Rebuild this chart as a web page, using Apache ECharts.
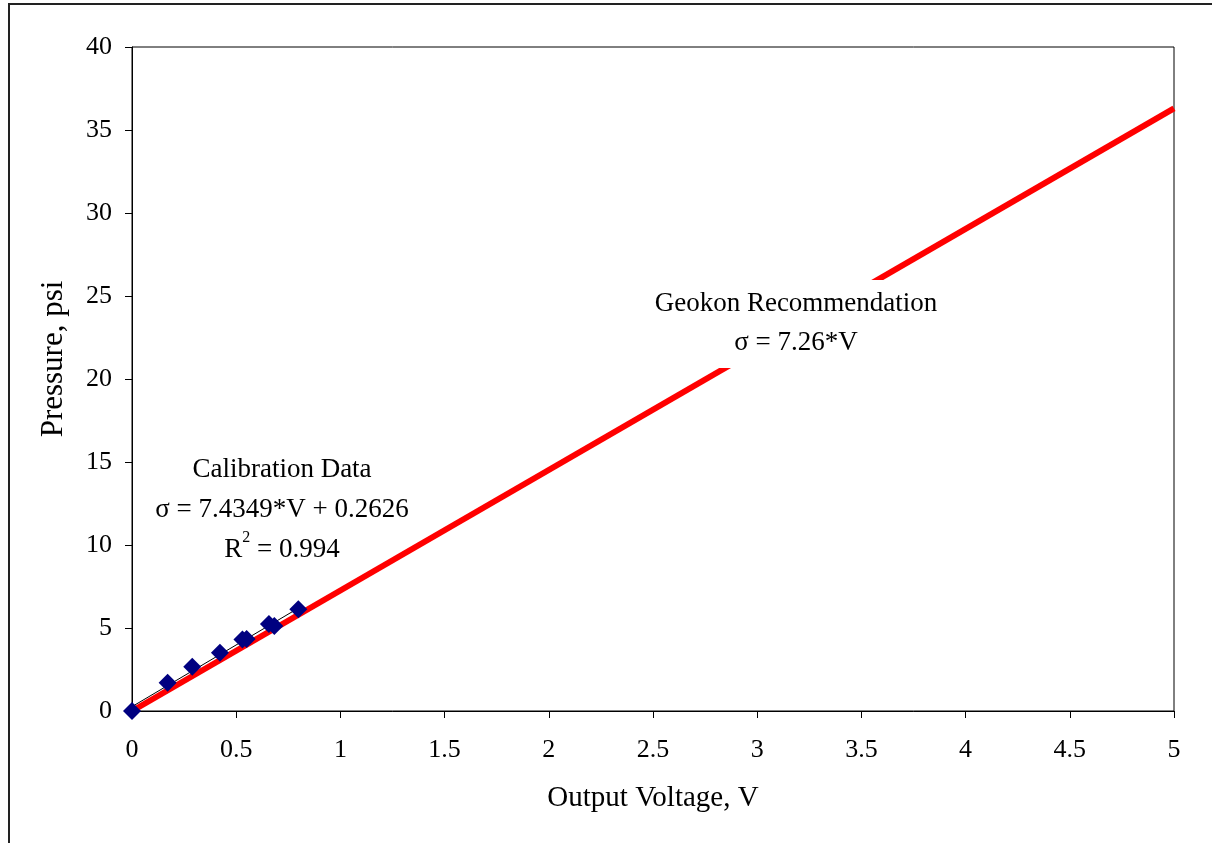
<!DOCTYPE html>
<html>
<head>
<meta charset="utf-8">
<script src="https://cdn.jsdelivr.net/npm/echarts@6/dist/echarts.min.js"></script>
<style>
  html, body { margin: 0; padding: 0; background: #fff; }
  #chart { width: 1212px; height: 843px; }
</style>
</head>
<body>
<div id="chart"></div>
<script>
// calibration points (V, psi)
const calVoltage = [0, 0.171, 0.289, 0.422, 0.53, 0.55, 0.657, 0.683, 0.798];
const calPressure = [0, 1.70, 2.67, 3.51, 4.30, 4.33, 5.24, 5.12, 6.13];

// fitted trend line endpoints
const fitVoltage = [0, 0.8];
const fitPressure = [0.2626, 6.21];

// Geokon recommendation line endpoints
const geoVoltage = [0, 5];
const geoPressure = [0, 36.3];

const xTicks = { min: 0, max: 5, step: 0.5 };
const yTicks = { min: 0, max: 40, step: 5 };

const pairs = (xs, ys) => xs.map((x, i) => [x, ys[i]]);

const font = '"Liberation Serif", "DejaVu Serif", serif';
const chart = echarts.init(document.getElementById('chart'));

chart.setOption({
  animation: false,
  backgroundColor: '#fff',
  textStyle: { fontFamily: font },
  grid: {
    left: 132, top: 47, right: 38, bottom: 132,
    show: true, borderColor: '#000', borderWidth: 1
  },
  xAxis: {
    type: 'value',
    min: xTicks.min, max: xTicks.max, interval: xTicks.step,
    name: 'Output Voltage, V',
    nameLocation: 'middle',
    nameGap: 73,
    nameTextStyle: { fontFamily: font, fontSize: 29, color: '#000' },
    axisLine: { show: true, onZero: false, lineStyle: { color: '#000', width: 1 } },
    axisTick: { show: true, inside: false, length: 7, lineStyle: { color: '#000' } },
    axisLabel: { fontFamily: font, fontSize: 26, color: '#000', margin: 26 },
    splitLine: { show: false }
  },
  yAxis: {
    type: 'value',
    min: yTicks.min, max: yTicks.max, interval: yTicks.step,
    name: 'Pressure, psi',
    nameLocation: 'middle',
    nameGap: 63,
    nameTextStyle: { fontFamily: font, fontSize: 31, color: '#000', padding: [0, 0, 0, 40] },
    axisLine: { show: true, onZero: false, lineStyle: { color: '#000', width: 1 } },
    axisTick: { show: true, inside: false, length: 7, lineStyle: { color: '#000' } },
    axisLabel: { fontFamily: font, fontSize: 26, color: '#000', margin: 20 },
    splitLine: { show: false }
  },
  series: [
    {
      name: 'Geokon',
      type: 'line',
      data: pairs(geoVoltage, geoPressure),
      symbol: 'none',
      lineStyle: { color: '#ff0000', width: 6 },
      z: 2
    },
    {
      name: 'Fit',
      type: 'line',
      data: pairs(fitVoltage, fitPressure),
      symbol: 'none',
      lineStyle: { color: '#000', width: 1 },
      z: 3
    },
    {
      name: 'Calibration',
      type: 'scatter',
      data: pairs(calVoltage, calPressure),
      symbol: 'diamond',
      symbolSize: 18,
      itemStyle: { color: '#000080', opacity: 1 },
      z: 4
    }
  ],
  graphic: [
    {
      type: 'rect',
      shape: { x: 9, y: 4, width: 1400, height: 1000 },
      style: { fill: 'none', stroke: '#222', lineWidth: 2 },
      silent: true
    },
    {
      type: 'text',
      x: 796, y: 280,
      z: 10,
      style: {
        text: 'Geokon Recommendation\nσ = 7.26*V',
        font: '27px ' + font,
        fill: '#000',
        align: 'center',
        verticalAlign: 'top',
        lineHeight: 39,
        backgroundColor: '#fff',
        padding: [4, 10, 6, 10]
      }
    },
    {
      type: 'text',
      x: 282, y: 450,
      z: 10,
      style: {
        text: 'Calibration Data\nσ = 7.4349*V + 0.2626\n{r|R}{sup|2}{r| = 0.994}',
        font: '27px ' + font,
        fill: '#000',
        align: 'center',
        verticalAlign: 'top',
        lineHeight: 40,
        rich: {
          r: { fontFamily: font, fontSize: 27, color: '#000', lineHeight: 40 },
          sup: { fontFamily: font, fontSize: 16, color: '#000', lineHeight: 40, verticalAlign: 'top', padding: [0, 0, 14, 0] }
        }
      }
    }
  ]
});
</script>
</body>
</html>
